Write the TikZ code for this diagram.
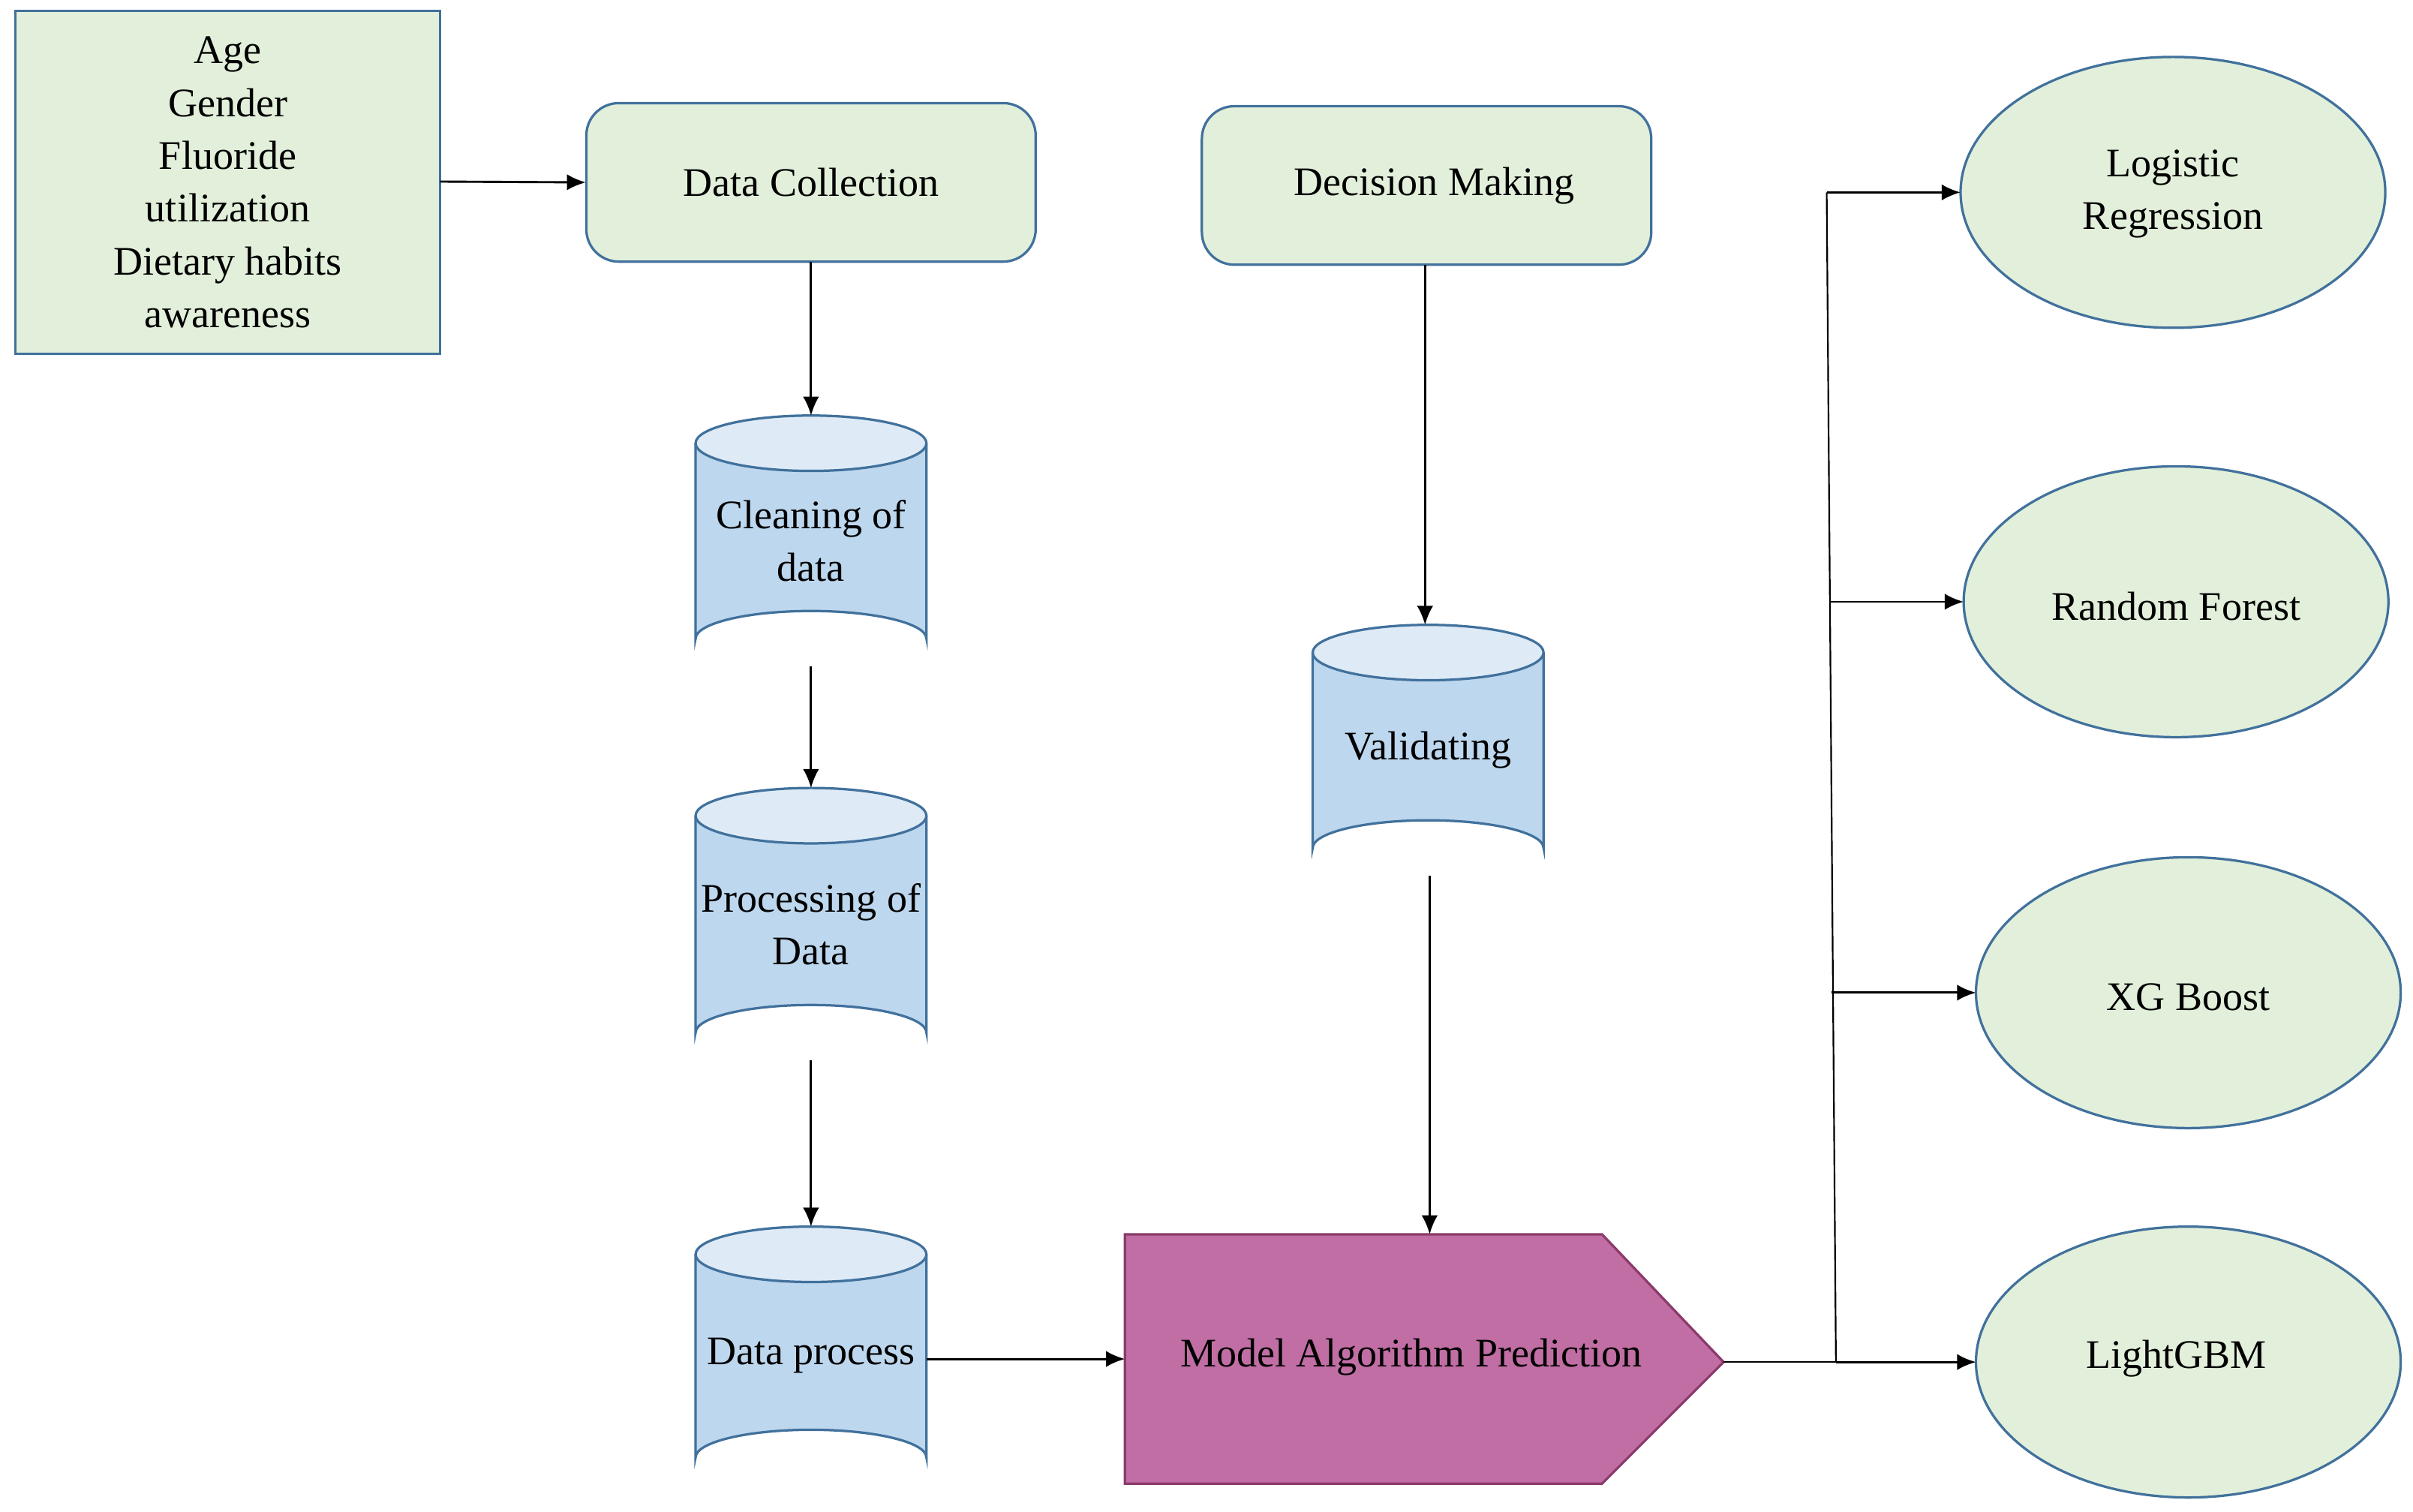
\documentclass[tikz,border=0pt]{standalone}
\usepackage{fontspec}
\setmainfont{Liberation Serif}
\usetikzlibrary{arrows.meta}
\definecolor{gfill}{HTML}{E2EFDA}
\definecolor{bline}{HTML}{41719C}
\definecolor{cfill}{HTML}{BDD7EE}
\definecolor{ctop}{HTML}{DEEBF7}
\definecolor{pfill}{HTML}{C16EA5}
\definecolor{pline}{HTML}{8B3A6B}
\tikzset{
  txt/.style={font=\fontsize{15}{19.5}\selectfont, align=center},
  gbox/.style={draw=bline, fill=gfill, line width=0.9pt},
  arr/.style={-{Latex[length=7pt,width=6pt]}, line width=0.8pt},
  ln/.style={line width=0.6pt},
  cylbody/.style={draw=bline, fill=cfill, line width=0.9pt},
  cyltop/.style={draw=bline, fill=ctop, line width=0.9pt},
}
\newcommand{\mycyl}[4]{% xl xr ytop ybot
  \fill[cfill] (#1,#3) -- (#1,#4) arc[start angle=180,end angle=360,x radius={(#2-#1)/2},y radius=18] -- (#2,#3) -- cycle;
  \draw[cylbody,fill=none] (#1,#3) -- (#1,#4) arc[start angle=180,end angle=360,x radius={(#2-#1)/2},y radius=18] -- (#2,#3);
  \draw[cyltop] ({(#1+#2)/2},#3) ellipse[x radius={(#2-#1)/2},y radius=18];
}
\begin{document}
\begin{tikzpicture}[x=0.02cm,y=-0.02cm]
\useasboundingbox (0,0) rectangle (1568,982);
% input box
\draw[gbox] (10,7) rectangle (286,230);
\node[txt] (inp) at (148,118.5) {Age\\Gender\\Fluoride\\utilization\\Dietary habits\\awareness};
\coordinate (inpR) at (286,118);
% Data Collection
\draw[gbox, rounded corners=12] (381,67) rectangle (673,170);
\node[txt, minimum width=5.84cm, minimum height=2.06cm] (dc) at (527,118.5) {Data Collection};
% Decision Making
\draw[gbox, rounded corners=12] (781,69) rectangle (1073,172);
\node[txt, minimum width=5.84cm, minimum height=2.06cm] (dm) at (932,120.5) {Decision Making};
% cylinders
\mycyl{452}{602}{288}{415}
\node[txt, minimum width=3cm, minimum height=3.26cm] (c1) at (527,351.5) {Cleaning of\\data};
\mycyl{452}{602}{530}{671}
\node[txt, minimum width=3cm, minimum height=3.54cm] (c2) at (527,600.5) {Processing of\\Data};
\mycyl{452}{602}{815}{947}
\node[txt, minimum width=3cm, minimum height=3.36cm] (c3) at (527,881) {Data process};
\mycyl{853}{1003}{424}{551}
\node[txt, minimum width=3cm, minimum height=3.26cm] (val) at (928,487.5) {Validating};
% pentagon
\draw[draw=pline, fill=pfill, line width=0.9pt] (731,802) -- (1041,802) -- (1120,885) -- (1041,964) -- (731,964) -- cycle;
\node[txt] (mp) at (917,882) {Model Algorithm Prediction};
\coordinate (mpR) at (1120,885);
\coordinate (mpT) at (929,802);
\coordinate (mpL) at (731,883);
% ellipses
\draw[gbox] (1412,125) ellipse[x radius=138, y radius=88];
\node[txt] (lr) at (1412,126) {Logistic\\Regression};
\draw[gbox] (1414,391) ellipse[x radius=138, y radius=88];
\node[txt] (rf) at (1414,394) {Random Forest};
\draw[gbox] (1422,645) ellipse[x radius=138, y radius=88];
\node[txt] (xg) at (1422,648) {XG Boost};
\draw[gbox] (1422,885) ellipse[x radius=138, y radius=88];
\node[txt] (lg) at (1414,883) {LightGBM};
\coordinate (lrL) at (1274,125);
\coordinate (rfL) at (1276,391);
\coordinate (xgL) at (1284,645);
\coordinate (lgL) at (1284,885);
\coordinate (b0) at (1187,125);
\coordinate (b1) at (1189,391);
\coordinate (b2) at (1190,645);
\coordinate (b3) at (1193,885);
% connectors
\draw[arr] (inpR) -- (dc.west);
\draw[arr] (dc.south) -- (527,270);
\draw[arr] (527,433) -- (527,512);
\draw[arr] (527,689) -- (527,797);
\draw[arr] (602,883) -- (mpL);
\draw[arr] (926,172) -- (926,406);
\draw[arr] (929,569) -- (mpT);
\draw[ln] (mpR) -- (b3);
\draw[ln] (b0) -- (b3);
\draw[arr] (b0) -- (lrL);
\draw[arr] (b1) -- (rfL);
\draw[arr] (b2) -- (xgL);
\draw[arr] (b3) -- (lgL);
\end{tikzpicture}
\end{document}
